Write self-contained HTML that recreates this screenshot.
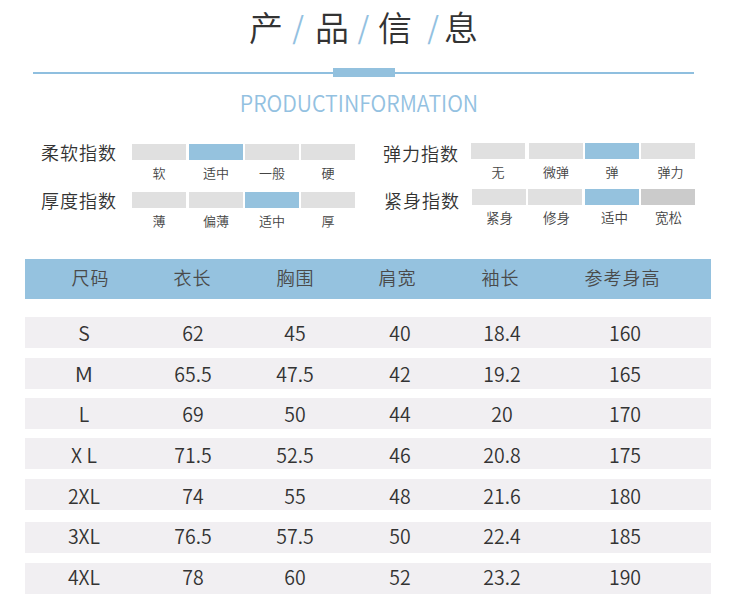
<!DOCTYPE html>
<html lang="zh-CN">
<head>
<meta charset="utf-8">
<title>产品信息</title>
<style>
*{margin:0;padding:0;box-sizing:border-box}
html,body{width:750px;height:615px;overflow:hidden;background:#fff}
body{position:relative;font-family:"Liberation Sans","Noto Sans CJK SC",sans-serif;color:#333}
.a{position:absolute;white-space:nowrap}
.cjk{font-family:"Noto Sans CJK SC","Liberation Sans",sans-serif}
/* title */
.t{font-size:34px;line-height:34px;color:#333;top:10.4px;font-weight:350}
.sl{font-size:30px;line-height:30px;color:#93c1e1;top:10.7px;font-family:"Noto Sans CJK SC",sans-serif;font-weight:400}
.ln{left:33px;top:72px;width:661px;height:2px;background:#8fbfdf}
.lnb{left:333px;top:68px;width:62px;height:9px;background:#93c1de}
.en{left:0;width:718px;text-align:center;top:90.9px;font-weight:350;font-size:22.5px;line-height:22.5px;transform:scaleX(.947);color:#93c1e1;font-family:"Noto Sans CJK SC",sans-serif}
/* index */
.lab{font-size:18px;line-height:18px;color:#333;letter-spacing:1px;font-weight:350}
.bar{height:16px;width:54px;background:#e0e0e0}
.on{background:#95c2de}
.dk{background:#cbcbcb}
.sm{font-size:13px;line-height:13px;color:#444;width:54px;text-align:center;font-weight:350}
/* table */
.hd{left:25px;top:259px;width:686px;height:40px;background:#95c2df}
.hc{font-size:18px;line-height:18px;color:#4a4a4a;font-weight:350;letter-spacing:1px;text-indent:1px;top:268.3px;width:120px;text-align:center}
.row{left:25px;width:686px;height:31px;background:#f1eff2}
.c{font-size:20.3px;line-height:20.3px;transform:scaleX(.962);font-weight:350;color:#333;width:120px;text-align:center;font-family:"Noto Sans CJK SC",sans-serif}
</style>
</head>
<body>
<!-- title -->
<div class="a t cjk" style="left:249px">产</div>
<div class="a sl" style="left:292.2px">/</div>
<div class="a t cjk" style="left:315px">品</div>
<div class="a sl" style="left:357.5px">/</div>
<div class="a t cjk" style="left:378px">信</div>
<div class="a sl" style="left:427.2px">/</div>
<div class="a t cjk" style="left:444px">息</div>
<div class="a ln"></div>
<div class="a lnb"></div>
<div class="a en">PRODUCTINFORMATION</div>

<!-- index left -->
<div class="a lab cjk" style="left:41px;top:143px">柔软指数</div>
<div class="a bar" style="left:132px;top:144px"></div>
<div class="a bar on" style="left:189px;top:144px"></div>
<div class="a bar" style="left:245px;top:144px"></div>
<div class="a bar" style="left:301px;top:144px"></div>
<div class="a sm cjk" style="left:132px;top:166px">软</div>
<div class="a sm cjk" style="left:189px;top:166px">适中</div>
<div class="a sm cjk" style="left:245px;top:166px">一般</div>
<div class="a sm cjk" style="left:301px;top:166px">硬</div>

<div class="a lab cjk" style="left:41px;top:191px">厚度指数</div>
<div class="a bar" style="left:132px;top:192px"></div>
<div class="a bar" style="left:189px;top:192px"></div>
<div class="a bar on" style="left:245px;top:192px"></div>
<div class="a bar" style="left:301px;top:192px"></div>
<div class="a sm cjk" style="left:132px;top:214px">薄</div>
<div class="a sm cjk" style="left:189px;top:214px">偏薄</div>
<div class="a sm cjk" style="left:245px;top:214px">适中</div>
<div class="a sm cjk" style="left:301px;top:214px">厚</div>

<!-- index right -->
<div class="a lab cjk" style="left:383px;top:144px">弹力指数</div>
<div class="a bar" style="left:471px;top:143px"></div>
<div class="a bar" style="left:529px;top:143px"></div>
<div class="a bar on" style="left:585px;top:143px"></div>
<div class="a bar" style="left:641px;top:143px"></div>
<div class="a sm cjk" style="left:471px;top:165px">无</div>
<div class="a sm cjk" style="left:529px;top:165px">微弹</div>
<div class="a sm cjk" style="left:585px;top:165px">弹</div>
<div class="a sm cjk" style="left:643.5px;top:165px">弹力</div>

<div class="a lab cjk" style="left:384px;top:190.5px">紧身指数</div>
<div class="a bar" style="left:472px;top:189px"></div>
<div class="a bar" style="left:528px;top:189px"></div>
<div class="a bar on" style="left:585px;top:189px"></div>
<div class="a bar dk" style="left:641px;top:189px"></div>
<div class="a sm cjk" style="left:472.5px;top:211px;font-size:13.5px">紧身</div>
<div class="a sm cjk" style="left:529.5px;top:211px;font-size:13.5px">修身</div>
<div class="a sm cjk" style="left:587.5px;top:211px;font-size:13.5px">适中</div>
<div class="a sm cjk" style="left:641.5px;top:211px;font-size:13.5px">宽松</div>

<!-- table header -->
<div class="a hd"></div>
<div class="a hc cjk" style="left:30px">尺码</div>
<div class="a hc cjk" style="left:132px">衣长</div>
<div class="a hc cjk" style="left:235px">胸围</div>
<div class="a hc cjk" style="left:337px">肩宽</div>
<div class="a hc cjk" style="left:440px">袖长</div>
<div class="a hc cjk" style="left:562px">参考身高</div>

<!-- rows -->
<div class="a row" style="top:317px"></div>
<div class="a row" style="top:358px"></div>
<div class="a row" style="top:398px"></div>
<div class="a row" style="top:438px"></div>
<div class="a row" style="top:479px"></div>
<div class="a row" style="top:522px"></div>
<div class="a row" style="top:563px"></div>

<!--CELLS-->
<div class="a c" style="left:24px;top:321.8px">S</div>
<div class="a c" style="left:132.5px;top:321.8px">62</div>
<div class="a c" style="left:234.5px;top:321.8px">45</div>
<div class="a c" style="left:340px;top:321.8px">40</div>
<div class="a c" style="left:441.5px;top:321.8px">18.4</div>
<div class="a c" style="left:565px;top:321.8px">160</div>
<div class="a c" style="left:24px;top:362.8px;transform:scaleX(1.12)">M</div>
<div class="a c" style="left:132.5px;top:362.8px">65.5</div>
<div class="a c" style="left:234.5px;top:362.8px">47.5</div>
<div class="a c" style="left:340px;top:362.8px">42</div>
<div class="a c" style="left:441.5px;top:362.8px">19.2</div>
<div class="a c" style="left:565px;top:362.8px">165</div>
<div class="a c" style="left:24px;top:402.8px">L</div>
<div class="a c" style="left:132.5px;top:402.8px">69</div>
<div class="a c" style="left:234.5px;top:402.8px">50</div>
<div class="a c" style="left:340px;top:402.8px">44</div>
<div class="a c" style="left:441.5px;top:402.8px">20</div>
<div class="a c" style="left:565px;top:402.8px">170</div>
<div class="a c" style="left:24px;top:443.8px">X L</div>
<div class="a c" style="left:132.5px;top:443.8px">71.5</div>
<div class="a c" style="left:234.5px;top:443.8px">52.5</div>
<div class="a c" style="left:340px;top:443.8px">46</div>
<div class="a c" style="left:441.5px;top:443.8px">20.8</div>
<div class="a c" style="left:565px;top:443.8px">175</div>
<div class="a c" style="left:24px;top:484.8px">2XL</div>
<div class="a c" style="left:132.5px;top:484.8px">74</div>
<div class="a c" style="left:234.5px;top:484.8px">55</div>
<div class="a c" style="left:340px;top:484.8px">48</div>
<div class="a c" style="left:441.5px;top:484.8px">21.6</div>
<div class="a c" style="left:565px;top:484.8px">180</div>
<div class="a c" style="left:24px;top:524.8px">3XL</div>
<div class="a c" style="left:132.5px;top:524.8px">76.5</div>
<div class="a c" style="left:234.5px;top:524.8px">57.5</div>
<div class="a c" style="left:340px;top:524.8px">50</div>
<div class="a c" style="left:441.5px;top:524.8px">22.4</div>
<div class="a c" style="left:565px;top:524.8px">185</div>
<div class="a c" style="left:24px;top:565.8px">4XL</div>
<div class="a c" style="left:132.5px;top:565.8px">78</div>
<div class="a c" style="left:234.5px;top:565.8px">60</div>
<div class="a c" style="left:340px;top:565.8px">52</div>
<div class="a c" style="left:441.5px;top:565.8px">23.2</div>
<div class="a c" style="left:565px;top:565.8px">190</div>
<!--/CELLS-->
</body>
</html>
